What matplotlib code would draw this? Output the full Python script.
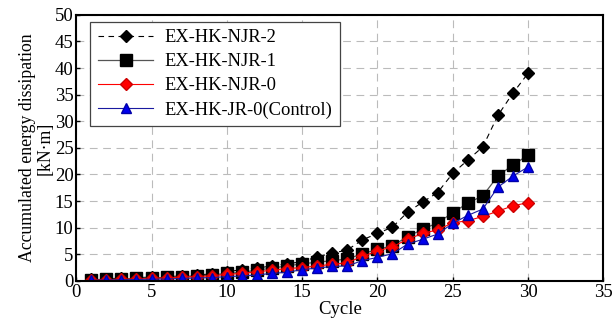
import matplotlib.pyplot as plt

# cycle number and accumulated energy dissipation [kN*m]
cycles = list(range(1, 31))

njr2 = [0.3, 0.4, 0.5, 0.6, 0.7, 0.8, 0.9, 1.1, 1.3, 1.7,
        2.1, 2.4, 2.8, 3.2, 3.6, 4.5, 5.2, 5.8, 7.7, 8.9,
        10.1, 12.9, 14.8, 16.6, 20.2, 22.7, 25.2, 31.1, 35.3, 39.0]
njr1 = [0.2, 0.3, 0.35, 0.45, 0.55, 0.65, 0.8, 0.95, 1.1, 1.4,
        1.6, 2.0, 2.4, 2.8, 3.2, 3.5, 3.8, 4.1, 5.1, 5.9,
        6.6, 8.3, 9.7, 10.9, 12.8, 14.6, 16.0, 19.7, 21.8, 23.6]
njr0 = [0.15, 0.2, 0.3, 0.35, 0.45, 0.55, 0.7, 0.8, 0.95, 1.2,
        1.4, 1.7, 2.0, 2.3, 2.5, 2.8, 3.1, 3.4, 4.6, 5.6,
        6.4, 7.8, 8.9, 9.6, 10.9, 11.3, 12.1, 13.1, 14.1, 14.7]
control = [0.1, 0.15, 0.2, 0.25, 0.3, 0.35, 0.45, 0.55, 0.6, 0.8,
           0.9, 1.1, 1.4, 1.6, 2.1, 2.4, 2.7, 2.8, 3.8, 4.4,
           5.1, 6.9, 7.8, 8.8, 10.8, 12.3, 13.5, 17.6, 19.7, 21.4]

labels = ['EX-HK-NJR-2', 'EX-HK-NJR-1', 'EX-HK-NJR-0', 'EX-HK-JR-0(Control)']

plt.rcParams['font.family'] = 'Liberation Serif'
plt.rcParams['font.size'] = 13.5

fig = plt.figure(figsize=(6.15, 3.3), dpi=100)
ax = fig.add_axes([0.124, 0.149, 0.857, 0.806])

ax.plot(cycles, njr2, color='black', ls=(0, (5, 4)), lw=0.8,
        marker='D', ms=6.5, mfc='black', mec='black', label=labels[0])
ax.plot(cycles, njr1, color='#555555', ls='-', lw=0.9,
        marker='s', ms=8.5, mfc='black', mec='black', label=labels[1])
ax.plot(cycles, njr0, color='red', ls='-', lw=0.8,
        marker='D', ms=6.5, mfc='red', mec='#cc0000', label=labels[2])
ax.plot(cycles, control, color='#1a1aa0', ls='-', lw=0.8,
        marker='^', ms=7.5, mfc='#0000ee', mec='#0000aa', label=labels[3])

ax.set_xlim(0, 35)
ax.set_ylim(0, 50)
ax.set_xticks(range(0, 36, 5))
ax.set_yticks(range(0, 51, 5))
ax.grid(True, ls=(0, (7, 5)), color='#bbbbbb', lw=0.8)
ax.set_axisbelow(True)
ax.tick_params(direction='in', length=3, width=1, pad=2)
for s in ax.spines.values():
    s.set_linewidth(1.5)

ax.set_xlabel('Cycle', labelpad=0)
ax.set_ylabel('Accumulated energy dissipation\n[kN\u00b7m]', fontsize=12.8,
              labelpad=1, linespacing=1.0)

leg = ax.legend(loc='upper left', bbox_to_anchor=(0.027, 0.974), borderaxespad=0,
                fancybox=False, edgecolor='#444444', framealpha=1, handlelength=3.0,
                fontsize=13.3, borderpad=0.4, labelspacing=0.38, handletextpad=0.6)
leg.get_frame().set_linewidth(0.9)

plt.savefig('out.png', dpi=100)
